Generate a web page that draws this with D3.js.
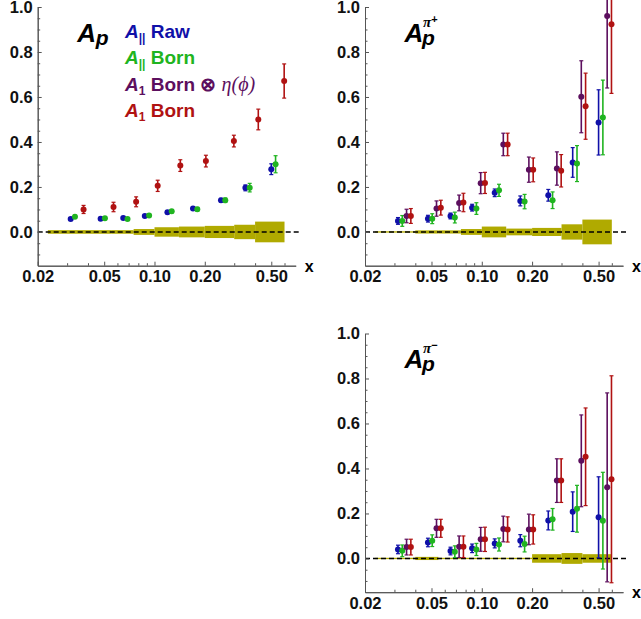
<!DOCTYPE html>
<html>
<head>
<meta charset="utf-8">
<script src="https://cdn.jsdelivr.net/npm/d3@7"></script>
<style>
  body { margin: 0; background: #fff; }
  text { font-family: "Liberation Sans", Arial, sans-serif; }
</style>
</head>
<body>
<svg id="chart" width="641" height="619"></svg>
<script>
// x bins (position of the first series in each bin) and systematic band bin edges
let binX = [0.0315, 0.0476, 0.065, 0.0875, 0.1195, 0.170, 0.250, 0.350, 0.500];
let bandEdges = [0.023, 0.04, 0.055, 0.075, 0.1, 0.14, 0.2, 0.3, 0.4, 0.6];

let seriesColors = ["#1010a8", "#20b420", "#5c0f5e", "#b01212"];

// A_p
let apRaw = [0.058, 0.059, 0.062, 0.071, 0.0875, 0.104, 0.141, 0.196, 0.279];
let apRawErr = [0.005, 0.005, 0.005, 0.005, 0.006, 0.007, 0.008, 0.013, 0.024];
let apBorn = [0.068, 0.061, 0.058, 0.073, 0.092, 0.101, 0.141, 0.197, 0.301];
let apBornErr = [0.006, 0.006, 0.006, 0.006, 0.007, 0.008, 0.010, 0.019, 0.038];
let apA1 = [0.100, 0.111, 0.134, 0.205, 0.295, 0.315, 0.404, 0.500, 0.671];
let apA1Err = [0.018, 0.021, 0.022, 0.025, 0.026, 0.026, 0.026, 0.046, 0.076];
let apBand = [0.008, 0.008, 0.008, 0.013, 0.021, 0.024, 0.027, 0.032, 0.046];

// A_p^pi+
let pipRaw = [0.049, 0.059, 0.071, 0.108, 0.174, 0.138, 0.163, 0.309, 0.487];
let pipRawErr = [0.015, 0.015, 0.013, 0.015, 0.017, 0.022, 0.026, 0.066, 0.145];
let pipBorn = [0.049, 0.059, 0.064, 0.104, 0.185, 0.135, 0.141, 0.304, 0.509];
let pipBornErr = [0.024, 0.022, 0.024, 0.026, 0.027, 0.032, 0.037, 0.080, 0.166];
let pipA1Eta = [0.071, 0.104, 0.129, 0.217, 0.389, 0.277, 0.282, 0.601, 0.960];
let pipA1EtaErr = [0.030, 0.034, 0.035, 0.047, 0.050, 0.056, 0.074, 0.160, 0.320];
let pipA1 = [0.071, 0.108, 0.131, 0.218, 0.389, 0.276, 0.272, 0.559, 0.923];
let pipA1Err = [0.033, 0.033, 0.041, 0.047, 0.050, 0.053, 0.072, 0.147, 0.307];
let pipBand = [0.003, 0.007, 0.007, 0.013, 0.024, 0.015, 0.018, 0.034, 0.055];

// A_p^pi-
let pimRaw = [0.040, 0.071, 0.033, 0.045, 0.067, 0.079, 0.169, 0.208, 0.183];
let pimRawErr = [0.019, 0.019, 0.017, 0.019, 0.020, 0.027, 0.042, 0.088, 0.180];
let pimBorn = [0.034, 0.079, 0.030, 0.040, 0.062, 0.064, 0.174, 0.221, 0.168];
let pimBornErr = [0.026, 0.026, 0.026, 0.027, 0.029, 0.035, 0.048, 0.104, 0.215];
let pimA1Eta = [0.0505, 0.134, 0.052, 0.085, 0.131, 0.129, 0.346, 0.434, 0.316];
let pimA1EtaErr = [0.035, 0.040, 0.048, 0.053, 0.057, 0.068, 0.097, 0.204, 0.420];
let pimA1 = [0.0505, 0.134, 0.052, 0.085, 0.129, 0.129, 0.346, 0.452, 0.352];
let pimA1Err = [0.035, 0.040, 0.048, 0.054, 0.056, 0.065, 0.097, 0.217, 0.460];
let pimBand = [0.003, 0.007, 0.003, 0.003, 0.003, 0.003, 0.019, 0.024, 0.019];

let yMajor = [0, 0.2, 0.4, 0.6, 0.8, 1.0];
let yMinor = [-0.1, -0.05, 0.05, 0.1, 0.15, 0.25, 0.3, 0.35, 0.45, 0.5, 0.55, 0.65, 0.7, 0.75, 0.85, 0.9, 0.95];
let xMajor = [0.02, 0.05, 0.1, 0.2, 0.5];
let xMinor = [0.03, 0.04, 0.06, 0.07, 0.08, 0.09, 0.3, 0.4, 0.6];

let W = 258, H = 258.7;
let shift = 1.061; // log offset between series inside a bin

let svg = d3.select("#chart");

let panels = [
    {left: 37.7, top: 7, band: apBand, sup: null,
     series: [[apRaw, apRawErr, 0], [apBorn, apBornErr, 1], [apA1, apA1Err, 3]]},
    {left: 365, top: 7, band: pipBand, sup: "+",
     series: [[pipRaw, pipRawErr, 0], [pipBorn, pipBornErr, 1], [pipA1Eta, pipA1EtaErr, 2], [pipA1, pipA1Err, 3]]},
    {left: 365, top: 333.5, band: pimBand, sup: "\u2212",
     series: [[pimRaw, pimRawErr, 0], [pimBorn, pimBornErr, 1], [pimA1Eta, pimA1EtaErr, 2], [pimA1, pimA1Err, 3]]}
];

let x = d3.scaleLog().domain([0.02, 0.7]).range([0, W]);
let y = d3.scaleLinear().domain([-0.15, 1.0]).range([H, 0]);

panels.forEach(p => {
    let g = svg.append("g").attr("transform", "translate(" + p.left + "," + p.top + ")");

    // systematic band
    g.append("g").selectAll("rect")
        .data(p.band)
        .enter().append("rect")
        .attr("x", (d, i) => x(bandEdges[i]))
        .attr("width", (d, i) => x(bandEdges[i + 1]) - x(bandEdges[i]))
        .attr("y", d => y(d))
        .attr("height", d => y(-d) - y(d))
        .attr("fill", "#b0aa00");

    // zero line
    g.append("line")
        .attr("x1", 0).attr("x2", W + 3)
        .attr("y1", y(0)).attr("y2", y(0))
        .attr("stroke", "#000")
        .attr("stroke-width", 1.6)
        .attr("stroke-dasharray", "5,3");

    // axes
    g.append("g").attr("class", "axis")
        .call(d3.axisLeft(y).tickValues(yMajor).tickFormat(d3.format(".1f"))
              .tickSize(-4).tickSizeOuter(0).tickPadding(5));
    g.append("g").attr("class", "axis")
        .call(d3.axisLeft(y).tickValues(yMinor).tickFormat("").tickSize(-2.5).tickSizeOuter(0));

    g.append("g").attr("class", "axis")
        .attr("transform", "translate(0," + H + ")")
        .call(d3.axisBottom(x).tickValues(xMajor).tickFormat(d3.format(".2f"))
              .tickSize(-4).tickSizeOuter(0).tickPadding(5));
    g.append("g").attr("class", "axis")
        .attr("transform", "translate(0," + H + ")")
        .call(d3.axisBottom(x).tickValues(xMinor).tickFormat("").tickSize(-2.5).tickSizeOuter(0));

    g.selectAll(".axis path").attr("stroke", "#555").attr("stroke-width", 1);
    g.selectAll(".axis line").attr("stroke", "#555");
    g.selectAll(".axis text")
        .attr("font-family", "'Liberation Sans', Arial, sans-serif")
        .attr("font-size", 16.5).attr("font-weight", "bold").attr("fill", "#111");

    g.append("text")
        .attr("x", W + 9).attr("y", H + 6)
        .attr("font-size", 16).attr("font-weight", "bold")
        .text("x");

    // data
    p.series.forEach(s => {
        let vals = s[0], errs = s[1], k = s[2];
        let col = seriesColors[k];
        let pts = g.append("g").selectAll("g")
            .data(vals.map((v, i) => ({x: binX[i] * Math.pow(shift, k), v: v, e: errs[i]})))
            .enter().append("g")
            .attr("stroke", col).attr("fill", col);
        pts.append("line")
            .attr("x1", d => x(d.x)).attr("x2", d => x(d.x))
            .attr("y1", d => y(d.v - d.e)).attr("y2", d => y(d.v + d.e))
            .attr("stroke-width", 1.6);
        pts.append("line")
            .attr("x1", d => x(d.x) - 2).attr("x2", d => x(d.x) + 2)
            .attr("y1", d => y(d.v + d.e)).attr("y2", d => y(d.v + d.e))
            .attr("stroke-width", 1.2);
        pts.append("line")
            .attr("x1", d => x(d.x) - 2).attr("x2", d => x(d.x) + 2)
            .attr("y1", d => y(d.v - d.e)).attr("y2", d => y(d.v - d.e))
            .attr("stroke-width", 1.2);
        pts.append("circle")
            .attr("cx", d => x(d.x)).attr("cy", d => y(d.v))
            .attr("r", 3).attr("stroke", "none");
    });

    // title
    let tg = g.append("g").attr("font-weight", "bold").attr("font-style", "italic").attr("fill", "#000");
    tg.append("text").attr("x", 39.5).attr("y", 34.5).attr("font-size", 26).text("A");
    if (p.sup) {
        tg.append("text").attr("x", 57).attr("y", 37.5).attr("font-size", 21).text("p");
        let st = tg.append("text").attr("x", 58).attr("y", 19.5);
        st.append("tspan").attr("font-size", 15).attr("font-family", "'Liberation Serif', serif").text("\u03c0");
        st.append("tspan").attr("font-size", 11).attr("dy", -4).attr("font-style", "normal").text(p.sup);
    } else {
        tg.append("text").attr("x", 58).attr("y", 37.5).attr("font-size", 21).text("p");
    }
});

// legend (in the first panel)
let legendLines = [
    {sub: "||", rest: " Raw", col: seriesColors[0], extra: null},
    {sub: "||", rest: " Born", col: seriesColors[1], extra: null},
    {sub: "1", rest: " Born \u2297 ", col: seriesColors[2], extra: "\u03b7(\u03d5)"},
    {sub: "1", rest: " Born", col: seriesColors[3], extra: null}
];
let leg = svg.append("g");
legendLines.forEach((l, i) => {
    let t = leg.append("text")
        .attr("x", 125).attr("y", 37.7 + i * 26.4)
        .attr("fill", l.col).attr("font-weight", "bold").attr("font-size", 19);
    t.append("tspan").attr("font-style", "italic").text("A");
    t.append("tspan").attr("font-size", 12).attr("dy", 4).text(l.sub);
    t.append("tspan").attr("dy", -4).text(l.rest);
    if (l.extra) {
        t.append("tspan").attr("font-family", "'Liberation Serif', serif")
            .attr("font-style", "italic").attr("font-weight", "normal").attr("font-size", 20)
            .text(l.extra);
    }
});
</script>
</body>
</html>
